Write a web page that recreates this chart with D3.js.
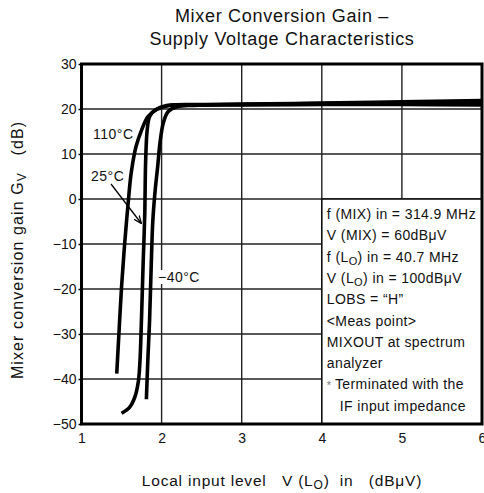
<!DOCTYPE html>
<html>
<head>
<meta charset="utf-8">
<script src="https://cdn.jsdelivr.net/npm/d3@7"></script>
<style>
  html, body { margin: 0; padding: 0; background: #fff; }
  svg { display: block; font-family: "Liberation Sans", Arial, Helvetica, sans-serif; }
</style>
</head>
<body>
<svg id="chart" width="484" height="493"></svg>
<script>
// Local input level V(LO) in (dBµV) vs. mixer conversion gain (dB)
const xTicks = [1, 2, 3, 4, 5, 6];
const yTicks = [-50, -40, -30, -20, -10, 0, 10, 20, 30];

const temps = ["110°C", "25°C", "−40°C"];

const gain110 = [
  [1.44, -38.8], [1.47, -29], [1.50, -19.5], [1.53, -12], [1.56, -5.4],
  [1.58, -1.4], [1.62, 5.7], [1.68, 11.6], [1.75, 15.3], [1.83, 18.3],
  [1.94, 19.9], [2.1, 20.8], [2.4, 21.0], [3, 21.1], [4, 21.3], [5, 21.6], [6, 21.9]
];
const gain25 = [
  [1.50, -47.6], [1.60, -46.3], [1.67, -43.8], [1.71, -40.5], [1.73, -36],
  [1.75, -26], [1.77, -14], [1.79, -3.2], [1.80, 7.9], [1.82, 15.3],
  [1.85, 18.3], [1.92, 19.8], [2.06, 20.8], [2.4, 20.9], [3, 21.0], [4, 21.2], [5, 21.4], [6, 21.5]
];
const gain40 = [
  [1.81, -44.5], [1.83, -35], [1.85, -26.9], [1.87, -15], [1.89, -5],
  [1.92, 2], [1.95, 7], [1.98, 12.5], [2.02, 16.8], [2.08, 19.4],
  [2.19, 20.5], [2.4, 20.8], [3, 20.9], [4, 21.0], [5, 21.0], [6, 20.9]
];

const noteLines = [
  [["f (MIX) in = 314.9 MHz"]],
  [["V (MIX) = 60dBμV"]],
  [["f (L"], ["O", "sub"], [") in = 40.7 MHz", "up"]],
  [["V (L"], ["O", "sub"], [") in = 100dBμV", "up"]],
  [["LOBS = “H”"]],
  [["<Meas point>"]],
  [["MIXOUT at spectrum"]],
  [["analyzer"]],
  [["* ", "star"], ["Terminated with the"]],
  [["   IF input impedance"]]
];

const svg = d3.select("#chart");
const W = 484, H = 493;
const margin = { left: 81.5, right: 2, top: 64, bottom: 69 };

const x = d3.scaleLinear().domain([1, 6]).range([margin.left, W - margin.right]);
const y = d3.scaleLinear().domain([-50, 30]).range([H - margin.bottom, margin.top]);

const plotW = x(6) - x(1), plotH = y(-50) - y(30);

// Title
const title = svg.append("g").attr("text-anchor", "middle").attr("font-size", 18)
  .attr("letter-spacing", 0.7).attr("fill", "#111");
title.append("text").attr("x", 282).attr("y", 22).text("Mixer Conversion Gain –");
title.append("text").attr("x", 282).attr("y", 45).text("Supply Voltage Characteristics");

// Grid lines
const grid = svg.append("g").attr("stroke", "#222").attr("stroke-width", 1.4);
grid.selectAll("line.vx").data(xTicks.slice(1, -1)).join("line")
  .attr("x1", d => x(d)).attr("x2", d => x(d)).attr("y1", y(30)).attr("y2", y(-50));
grid.selectAll("line.hy").data(yTicks.slice(1, -1)).join("line")
  .attr("x1", x(1)).attr("x2", x(6)).attr("y1", d => y(d)).attr("y2", d => y(d));

// Note box (covers the grid in the lower-right area)
svg.append("rect")
  .attr("x", x(4)).attr("y", y(0))
  .attr("width", x(6) - x(4)).attr("height", y(-50) - y(0))
  .attr("fill", "#fff").attr("stroke", "#111").attr("stroke-width", 1.6);

const note = svg.append("g").attr("font-size", 14).attr("letter-spacing", 0.4).attr("fill", "#111");
noteLines.forEach((parts, i) => {
  const t = note.append("text").attr("x", x(4) + 5).attr("y", y(0) + 20 + i * 21.3)
    .attr("xml:space", "preserve");
  parts.forEach(p => {
    const ts = t.append("tspan").text(p[0]);
    if (p[1] === "sub") ts.attr("font-size", 11).attr("dy", 3);
    else if (p[1] === "up") ts.attr("dy", -3);
    else if (p[1] === "star") ts.attr("fill", "#777").attr("font-size", 11);
  });
});

// Curves
const line = d3.line().x(d => x(d[0])).y(d => y(d[1])).curve(d3.curveCatmullRom.alpha(0.5));
const curves = svg.append("g").attr("fill", "none").attr("stroke", "#000")
  .attr("stroke-width", 3.6).attr("stroke-linecap", "butt").attr("stroke-linejoin", "round");
[gain110, gain25, gain40].forEach((data, i) => {
  curves.append("path").datum(data).attr("d", line).attr("class", "curve-" + i);
});

// Frame
svg.append("rect")
  .attr("x", x(1)).attr("y", y(30)).attr("width", plotW).attr("height", plotH)
  .attr("fill", "none").attr("stroke", "#000").attr("stroke-width", 3);

// Axes
const yAxis = d3.axisLeft(y).tickValues(yTicks).tickSize(3).tickPadding(2)
  .tickFormat(d3.format("d"));
svg.append("g").attr("transform", `translate(${x(1)},0)`).call(yAxis)
  .call(g => g.select(".domain").remove())
  .call(g => g.selectAll("text").attr("font-size", 14).attr("font-family", null).attr("fill", "#111"))
  .call(g => g.selectAll("line").attr("stroke", "#000").attr("stroke-width", 1.5));

const xAxis = d3.axisBottom(x).tickValues(xTicks).tickSize(0).tickPadding(9)
  .tickFormat(d3.format("d"));
svg.append("g").attr("transform", `translate(0,${y(-50)})`).call(xAxis)
  .call(g => g.select(".domain").remove())
  .call(g => g.selectAll("text").attr("font-size", 14).attr("font-family", null).attr("fill", "#111"));

// Axis titles
const xt = svg.append("text").attr("x", 282).attr("y", 486).attr("text-anchor", "middle")
  .attr("font-size", 15.5).attr("letter-spacing", 0.8).attr("fill", "#111").attr("xml:space", "preserve");
xt.append("tspan").text("Local input level   V (L");
xt.append("tspan").attr("font-size", 12).attr("dy", 3).text("O");
xt.append("tspan").attr("dy", -3).text(")  in   (dBμV)");

const yt = svg.append("text").attr("transform", "translate(23,250) rotate(-90)")
  .attr("text-anchor", "middle").attr("font-size", 16).attr("letter-spacing", 1.1).attr("fill", "#111")
  .attr("xml:space", "preserve");
yt.append("tspan").text("Mixer conversion gain G");
yt.append("tspan").attr("font-size", 12).attr("dy", 3).text("V");
yt.append("tspan").attr("dy", -3).text("   (dB)");

// Temperature labels
const lab = svg.append("g").attr("font-size", 14).attr("letter-spacing", 0.5).attr("fill", "#111");
lab.append("text").attr("x", 93).attr("y", 139).text(temps[0]);
lab.append("text").attr("x", 91).attr("y", 181).text(temps[1]);

const lab40 = lab.append("g");
const t40 = lab40.append("text").attr("x", 158).attr("y", 282).text(temps[2]);
const bb = t40.node().getBBox();
lab40.insert("rect", "text").attr("x", bb.x).attr("y", bb.y + 1)
  .attr("width", bb.width).attr("height", bb.height - 2).attr("fill", "#fff");

// Arrow pointing at the 25°C curve
svg.append("defs").append("marker").attr("id", "ah")
  .attr("viewBox", "0 0 10 10").attr("refX", 9).attr("refY", 5)
  .attr("markerWidth", 8).attr("markerHeight", 8).attr("orient", "auto")
  .attr("markerUnits", "userSpaceOnUse")
  .append("path").attr("d", "M0,1 L10,5 L0,9").attr("fill", "none").attr("stroke", "#000").attr("stroke-width", 1.6);
svg.append("line").attr("x1", 111).attr("y1", 184).attr("x2", 141).attr("y2", 223)
  .attr("stroke", "#000").attr("stroke-width", 1.3).attr("marker-end", "url(#ah)");
</script>
</body>
</html>
